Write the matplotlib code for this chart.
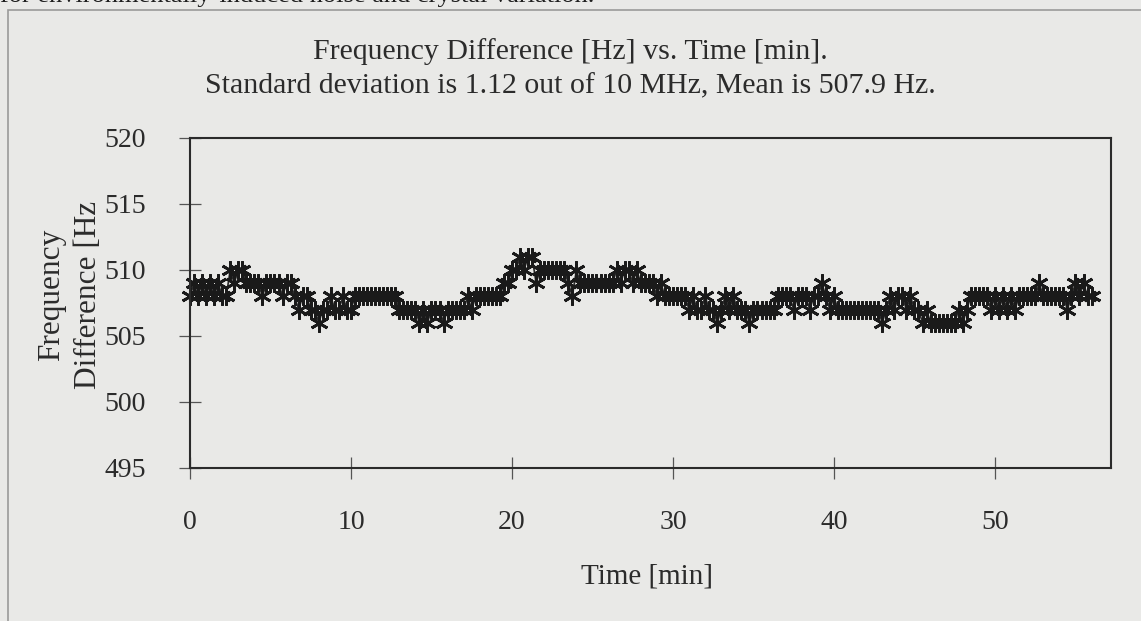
import numpy as np
import matplotlib.pyplot as plt
from matplotlib.patches import Rectangle

# ------------------ DATA ------------------
SAMPLE_MIN = 0.25  # one reading every 15 s

freq_hz = [
    508, 509, 508, 509, 508, 509, 508, 509, 508, 508,
    510, 509, 510, 510, 509,
    509, 509, 509, 508, 509, 509, 509, 509, 508, 509, 509,
    508, 507, 508, 508, 507,
    507, 506, 507, 507, 508, 507, 507, 508, 507, 507,
    508, 508, 508, 508, 508, 508, 508, 508, 508, 508, 508,
    507, 507, 507, 507, 507, 506, 507, 506, 507, 507, 507, 506, 507, 507, 507, 507, 507,
    508, 507, 508, 508, 508, 508, 508, 508, 508,
    509, 509, 510, 510, 511, 510, 511, 511,
    509, 510, 510, 510, 510, 510, 510, 510,
    509, 508, 510, 509,
    509, 509, 509, 509, 509, 509, 509, 509,
    510, 509, 510, 510, 509, 510, 509,
    509, 509, 509, 508, 509, 508,
    508, 508, 508, 508, 508,
    507, 508, 507, 507, 508, 507, 507, 506, 507, 508, 507,
    508, 507, 507, 507, 506, 507, 507, 507, 507, 507, 507,
    508, 508, 508, 508, 507, 508, 508, 508, 507, 508, 508,
    509, 508, 507, 508, 507,
    507, 507, 507, 507, 507, 507, 507, 507, 507, 507,
    506, 507, 508, 507, 508, 508, 507, 508, 507,
    507, 506, 507, 506, 506, 506, 506, 506, 506, 506, 507, 506,
    507, 508, 508, 508, 508, 508, 507, 508, 507, 508, 507, 508, 507, 508,
    508, 508, 508, 508, 509, 508, 508, 508, 508, 508, 508, 507,
    508, 509, 508, 509, 508, 508,
]
time_min = np.arange(len(freq_hz)) * SAMPLE_MIN

x_ticks = [0, 10, 20, 30, 40, 50]
y_ticks = [495, 500, 505, 510, 515, 520]

title_1 = "Frequency Difference [Hz] vs. Time [min]."
title_2 = "Standard deviation is 1.12 out of 10 MHz, Mean is 507.9 Hz."
# -------------------------------------------

BG = "#e9e9e7"
INK = "#2b2b2b"

plt.rcParams["font.family"] = ["Liberation Serif", "DejaVu Serif"]

fig = plt.figure(figsize=(11.41, 6.21), dpi=100, facecolor=BG)
ax = fig.add_axes([0.1665, 0.2464, 0.8071, 0.5314])
ax.set_facecolor(BG)

# asterisk marker like the spreadsheet "star"
ax.plot(time_min, freq_hz, color=INK, lw=1.2,
        marker=(6, 2, 0), markersize=13, markeredgewidth=2.0,
        markeredgecolor="#1a1a1a", clip_on=False)

ax.set_xlim(0, 57.2)
ax.set_ylim(495, 520)
ax.set_xticks(x_ticks)
ax.set_yticks(y_ticks)
ax.tick_params(direction="inout", length=16, width=0.9, colors="#555555",
               labelcolor=INK, labelsize=20)
ax.tick_params(axis="x", pad=22)
ax.tick_params(axis="y", pad=24)
for s in ax.spines.values():
    s.set_linewidth(1.5)
    s.set_color(INK)

fig.text(0.5, 1 - 52 / 621, title_1, ha="center", va="center",
         fontsize=21.5, color=INK)
fig.text(0.5, 1 - 86 / 621, title_2, ha="center", va="center",
         fontsize=21.5, color=INK)
fig.text(647 / 1141, 1 - 577 / 621, "Time [min]", ha="center", va="center",
         fontsize=21, color=INK)
fig.text(70 / 1141, 1 - 295 / 621, "Frequency\nDifference [Hz", rotation=90,
         ha="center", va="center", fontsize=22.5, color=INK, linespacing=1.35,
         multialignment="center")

# caption line of the page, cut by the scan
fig.text(0.0, 1 + 4 / 621, "for environmentally-induced noise and crystal variation.",
         ha="left", va="center", fontsize=19, color="#1e1e1e")

# outer chart-area frame (only top and left edges fall inside the picture)
fig.patches.append(Rectangle((8 / 1141, -0.1), 1.2, 1 - 10 / 621 + 0.1,
                             transform=fig.transFigure, fill=False,
                             edgecolor="#9a9a9a", lw=1.2))

fig.savefig("out.png", dpi=100, facecolor=BG)
